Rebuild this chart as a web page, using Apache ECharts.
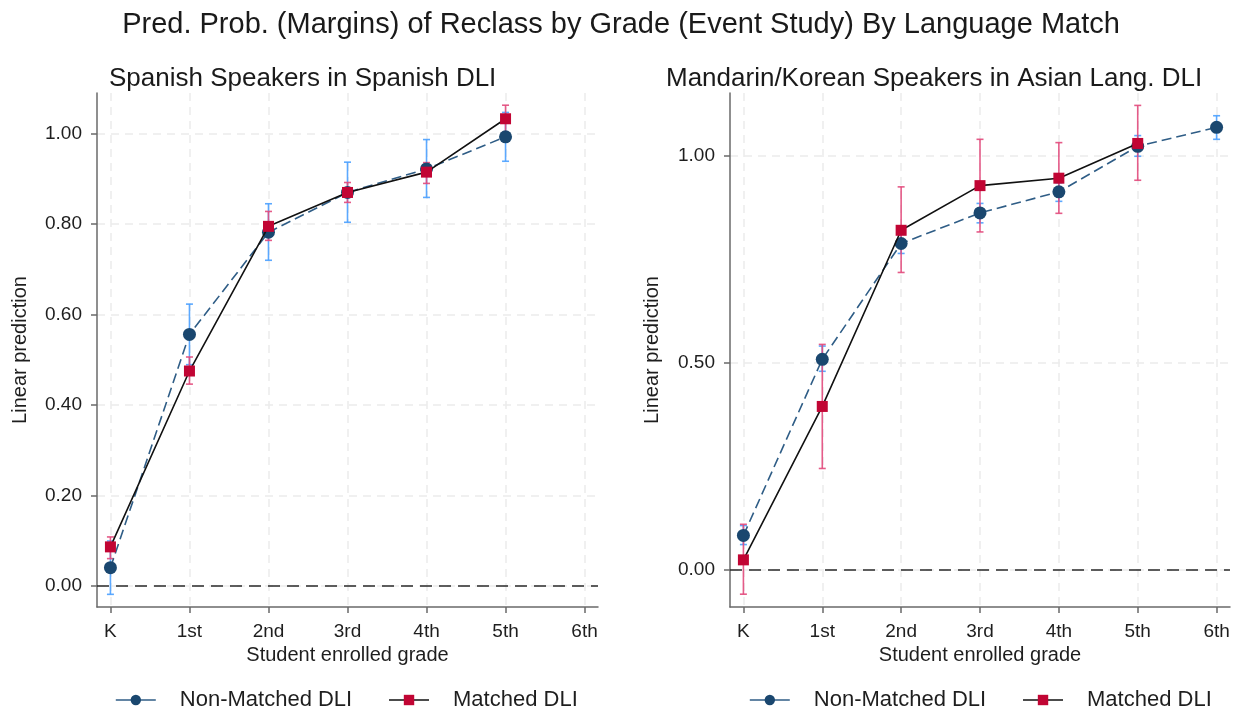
<!DOCTYPE html>
<html>
<head>
<meta charset="utf-8">
<script src="https://cdn.jsdelivr.net/npm/echarts@6/dist/echarts.min.js"></script>
<style>
  html, body { margin: 0; padding: 0; background: #ffffff; }
  #chart { width: 1242px; height: 713px; }
</style>
</head>
<body>
<div id="chart"></div>
<script>
// Grade labels on the x axis
const grades = ['K', '1st', '2nd', '3rd', '4th', '5th', '6th'];

// Spanish speakers in Spanish DLI (K–5th)
const spNonMatched   = [0.040, 0.556, 0.782, 0.870, 0.922, 0.993];
const spNonMatchedLo = [-0.019, 0.489, 0.720, 0.804, 0.859, 0.939];
const spNonMatchedHi = [0.099, 0.623, 0.845, 0.937, 0.987, 1.047];
const spMatched      = [0.086, 0.475, 0.795, 0.870, 0.915, 1.033];
const spMatchedLo    = [0.060, 0.446, 0.764, 0.848, 0.890, 1.003];
const spMatchedHi    = [0.108, 0.506, 0.828, 0.892, 0.936, 1.063];

// Mandarin/Korean speakers in Asian language DLI (non-matched K–6th, matched K–5th)
const asNonMatched   = [0.082, 0.508, 0.788, 0.862, 0.913, 1.023, 1.069];
const asNonMatchedLo = [0.060, 0.479, 0.764, 0.838, 0.890, 0.999, 1.040];
const asNonMatchedHi = [0.106, 0.540, 0.812, 0.885, 0.935, 1.049, 1.097];
const asMatched      = [0.023, 0.394, 0.820, 0.928, 0.946, 1.030];
const asMatchedLo    = [-0.060, 0.244, 0.718, 0.816, 0.861, 0.941];
const asMatchedHi    = [0.109, 0.544, 0.925, 1.040, 1.032, 1.122];

// Tick values
const gradeTicks = [0, 1, 2, 3, 4, 5, 6];
const spYTicks = [0, 0.2, 0.4, 0.6, 0.8, 1.0];
const asYTicks = [0, 0.5, 1.0];

const NAVY = '#1a476f';
const CI_BLUE = '#4aa0ff';
const CRANBERRY = '#c10534';
const CI_RED = '#e24a7c';
const FONT = '"Liberation Sans", Arial, sans-serif';
const TEXT = '#1e1e1e';

const points = vals => vals.map((v, i) => [i, v]);
const ranges = (lo, hi) => lo.map((l, i) => [i, l, hi[i]]);

// Vertical confidence interval with short caps at both ends
function errorBars(color) {
  return function (params, api) {
    const x = api.value(0);
    const lo = api.coord([x, api.value(1)]);
    const hi = api.coord([x, api.value(2)]);
    const cap = 3.5;
    const style = { stroke: color, lineWidth: 1.6, opacity: 0.9 };
    return {
      type: 'group',
      children: [
        { type: 'line', shape: { x1: lo[0], y1: lo[1], x2: hi[0], y2: hi[1] }, style },
        { type: 'line', shape: { x1: lo[0] - cap, y1: lo[1], x2: lo[0] + cap, y2: lo[1] }, style },
        { type: 'line', shape: { x1: hi[0] - cap, y1: hi[1], x2: hi[0] + cap, y2: hi[1] }, style }
      ]
    };
  };
}

const gridLine = { show: true, lineStyle: { color: '#ebebeb', width: 1.5, type: [8, 6] } };
const axisLineStyle = { show: true, onZero: false, lineStyle: { color: '#6a6a6a', width: 1.5 } };

function xAxisFor(gridIndex) {
  return {
    type: 'value', gridIndex, min: -0.17, max: 6.17,
    name: 'Student enrolled grade', nameLocation: 'middle', nameGap: 38,
    nameTextStyle: { fontFamily: FONT, fontSize: 20, color: TEXT },
    axisLine: axisLineStyle,
    axisTick: { show: true, length: 6, inside: false, customValues: gradeTicks, lineStyle: { color: '#6a6a6a', width: 1.5 } },
    axisLabel: { customValues: gradeTicks, margin: 15, fontFamily: FONT, fontSize: 19, color: TEXT,
                 formatter: v => grades[Math.round(v)] },
    splitLine: gridLine
  };
}

function yAxisFor(gridIndex, min, max, ticks, gap) {
  return {
    type: 'value', gridIndex, min, max,
    name: 'Linear prediction', nameLocation: 'middle', nameGap: gap, nameRotate: 90,
    nameTextStyle: { fontFamily: FONT, fontSize: 20, color: TEXT },
    axisLine: axisLineStyle,
    axisTick: { show: true, length: 6, customValues: ticks, lineStyle: { color: '#6a6a6a', width: 1.5 } },
    axisLabel: { customValues: ticks, margin: 15, fontFamily: FONT, fontSize: 19, color: TEXT,
                 formatter: v => v.toFixed(2) },
    splitLine: gridLine
  };
}

// Dashed reference line at zero
const zeroLine = {
  silent: true, symbol: 'none', label: { show: false },
  lineStyle: { color: '#2a2a2a', width: 1.5, type: [12, 7] },
  data: [{ yAxis: 0 }]
};

function panelSeries(idx, nm, nmLo, nmHi, m, mLo, mHi) {
  return [
    {
      type: 'custom', xAxisIndex: idx, yAxisIndex: idx, name: 'ci-nm-' + idx,
      renderItem: errorBars(CI_BLUE), data: ranges(nmLo, nmHi), encode: { x: 0, y: [1, 2] }, z: 2,
      markLine: zeroLine
    },
    {
      type: 'custom', xAxisIndex: idx, yAxisIndex: idx, name: 'ci-m-' + idx,
      renderItem: errorBars(CI_RED), data: ranges(mLo, mHi), encode: { x: 0, y: [1, 2] }, z: 3
    },
    {
      type: 'line', name: 'Non-Matched DLI', xAxisIndex: idx, yAxisIndex: idx,
      data: points(nm), symbol: 'circle', symbolSize: 13,
      itemStyle: { color: NAVY }, lineStyle: { color: '#2f5d86', width: 1.6, type: [10, 5] }, z: 4
    },
    {
      type: 'line', name: 'Matched DLI', xAxisIndex: idx, yAxisIndex: idx,
      data: points(m), symbol: 'rect', symbolSize: 11,
      itemStyle: { color: CRANBERRY }, lineStyle: { color: '#111', width: 1.6 }, z: 5
    }
  ];
}

function legendFor(left) {
  return {
    left, top: 684, itemWidth: 40, itemHeight: 13, itemGap: 36,
    data: ['Non-Matched DLI', 'Matched DLI'],
    lineStyle: { type: 'solid', width: 1.6 },
    textStyle: { fontFamily: FONT, fontSize: 22, color: TEXT, padding: [0, 0, 0, 19] },
    selectedMode: false
  };
}

const chart = echarts.init(document.getElementById('chart'), null, { renderer: 'canvas' });
chart.setOption({
  backgroundColor: '#ffffff',
  animation: false,
  title: [
    { text: 'Pred. Prob. (Margins) of Reclass by Grade (Event Study) By Language Match',
      left: 'center', top: 5, textStyle: { fontFamily: FONT, fontSize: 29, fontWeight: 'normal', color: '#1a1a1a' } },
    { text: 'Spanish Speakers in Spanish DLI', left: 104, top: 61,
      textStyle: { fontFamily: FONT, fontSize: 26, fontWeight: 'normal', color: '#1a1a1a' } },
    { text: 'Mandarin/Korean Speakers in Asian Lang. DLI', left: 661, top: 61,
      textStyle: { fontFamily: FONT, fontSize: 26, fontWeight: 'normal', color: '#1a1a1a' } }
  ],
  legend: [legendFor(110), legendFor(744)],
  grid: [
    { left: 97, top: 93, width: 501, height: 514 },
    { left: 730, top: 93, width: 500, height: 514 }
  ],
  xAxis: [xAxisFor(0), xAxisFor(1)],
  yAxis: [yAxisFor(0, -0.047, 1.09, spYTicks, 67), yAxisFor(1, -0.091, 1.152, asYTicks, 68)],
  series: [
    ...panelSeries(0, spNonMatched, spNonMatchedLo, spNonMatchedHi, spMatched, spMatchedLo, spMatchedHi),
    ...panelSeries(1, asNonMatched, asNonMatchedLo, asNonMatchedHi, asMatched, asMatchedLo, asMatchedHi)
  ]
});
</script>
</body>
</html>
